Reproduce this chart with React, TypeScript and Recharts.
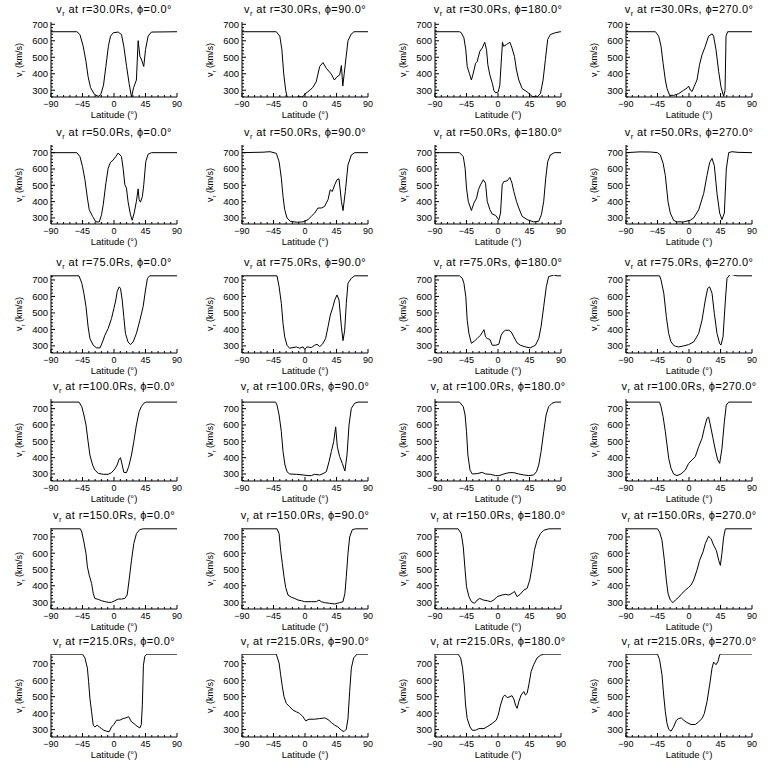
import React from 'react';
import { LineChart, Line, XAxis, YAxis } from 'recharts';

type Pt = [number, number];

// panel labels
const radii = [30, 50, 75, 100, 150, 215];
const phis = [0, 90, 180, 270];

// axis ticks
const latMajor = [-90, -45, 0, 45, 90];
const latTicks = [-90, -81, -72, -63, -54, -45, -36, -27, -18, -9, 0, 9, 18, 27, 36, 45, 54, 63, 72, 81, 90];
const vMajor = [300, 400, 500, 600, 700];
const vTicks = [260, 280, 300, 320, 340, 360, 380, 400, 420, 440, 460, 480, 500, 520, 540, 560, 580, 600, 620, 640, 660, 680, 700, 720, 740, 760];

// y range per radius row
const rowDomains: [number, number][] = [
  [259, 714],
  [263, 747],
  [257, 730],
  [257, 759],
  [257, 755],
  [255, 759],
];

// [latitude, v_r]
const r30p0: Pt[] = [[-90,655],[-53,655],[-48.7,638],[-44,567],[-40,474],[-37,382],[-33.5,316],[-28,275],[-22.5,263],[-19,273],[-15,331],[-11.6,444],[-8,567],[-5,628],[-1,649],[6,653],[10.7,638],[14,567],[18,444],[21.6,341],[25,259],[28,316],[32,362],[34.5,601],[37,505],[39,490],[42.5,444],[45,546],[48.7,628],[53.5,653],[90,655]];
const r30p90: Pt[] = [[-90,655],[-41,655],[-36,628],[-33,546],[-30.5,403],[-27.6,300],[-25.5,258],[-20,254],[-12,256],[-8,262],[-5,259],[-2,266],[0,278],[4,290],[11,316],[16,351],[21,444],[25.7,468],[30.5,433],[37.6,398],[42,362],[45.7,382],[49.5,392],[52,450],[54,326],[56,400],[61.4,600],[66,640],[70,655],[90,655]];
const r30p180: Pt[] = [[-90,655],[-55,655],[-52.5,649],[-48.7,618],[-46,546],[-44,444],[-41,403],[-38,362],[-36,392],[-32,464],[-29.7,474],[-26,536],[-22.5,556],[-19,591],[-16.4,546],[-14.5,454],[-11.6,392],[-8,341],[-6,300],[-3.5,284],[0.3,290],[2.6,331],[4.5,464],[6.4,591],[8,567],[12,577],[17,591],[20,556],[23.5,505],[26.4,423],[29.7,362],[34.5,310],[41.6,290],[48.7,263],[55.8,259],[60.6,279],[64.4,362],[67.7,485],[71,608],[74.8,638],[82,649],[89,655],[90,655]];
const r30p270: Pt[] = [[-90,655],[-48,655],[-43.3,628],[-40,567],[-37,464],[-33.8,362],[-31.4,310],[-27.6,269],[-22,269],[-14.8,279],[-7.6,300],[-2,316],[-0.5,325],[2,300],[4.3,292],[7.6,325],[11.4,362],[15,454],[18.6,515],[23.3,567],[28,628],[33,642],[35.2,628],[38.6,546],[42.4,413],[45.7,321],[49.5,263],[51.5,300],[52.9,628],[55.2,655],[90,655]];

const r50p0: Pt[] = [[-90,700],[-53,700],[-48.7,676],[-45,615],[-41.5,534],[-38,422],[-35.4,351],[-30.6,310],[-26,276],[-21,276],[-17.8,320],[-15.4,381],[-11.6,513],[-8.3,605],[-5,641],[-1.2,655],[2.6,676],[6,698],[10.7,676],[13,605],[15.5,503],[17.8,483],[20,402],[23.5,320],[26,286],[28.8,330],[32,402],[34.5,478],[35.9,412],[37.8,397],[40.6,432],[42.5,503],[45.4,645],[48.7,690],[53.5,700],[90,700]];
const r50p90: Pt[] = [[-90,700],[-60,703],[-50,706],[-41,696],[-37,645],[-33.8,544],[-31.4,432],[-29,351],[-25.7,300],[-21,280],[-12.4,274],[-2.9,276],[4.3,290],[9,310],[13.8,330],[18.6,361],[23.3,361],[28,371],[32.9,412],[36,473],[39,462],[42.4,503],[45.7,534],[48.6,540],[52,402],[54.3,345],[57.6,462],[61.4,625],[66.2,686],[71,700],[90,700]];
const r50p180: Pt[] = [[-90,700],[-55,700],[-49.6,676],[-47,605],[-45,483],[-42.5,402],[-38,346],[-34.4,391],[-30.6,422],[-28,473],[-25,503],[-21,534],[-17.8,513],[-15.4,402],[-11.6,351],[-8.3,324],[-3.5,316],[1.2,288],[3.6,330],[6,503],[8.3,523],[13,527],[17,548],[20,513],[22.6,462],[26.4,402],[29.7,361],[34.5,310],[41.6,290],[51,276],[58.2,280],[62,320],[65.3,402],[68.2,544],[71,645],[74.8,686],[80.5,700],[90,700]];
const r50p270: Pt[] = [[-90,700],[-70,705],[-55,704],[-45,700],[-41,686],[-37,635],[-33.8,560],[-30,400],[-26.7,330],[-21.9,285],[-17.1,276],[-7.6,276],[1.9,286],[6.7,300],[13.8,350],[21,450],[25.7,560],[29.5,640],[32.9,665],[36.2,620],[40,450],[43.8,330],[47.1,290],[50.5,330],[53.3,600],[56.7,700],[61.4,706],[70,702],[90,700]];

const r75p0: Pt[] = [[-90,725],[-50,725],[-46,680],[-43,619],[-40,538],[-37,416],[-34.4,345],[-29.7,304],[-25,288],[-20,288],[-16.4,324],[-13,365],[-8.3,406],[-3.5,467],[-0.2,527],[2.6,578],[4.5,629],[7.4,658],[9.3,649],[11.7,578],[14,477],[16.4,375],[20,324],[23.5,308],[27.3,324],[32,375],[37,456],[41.6,538],[45,639],[47.8,710],[51,725],[90,725]];
const r75p90: Pt[] = [[-90,725],[-40,725],[-37,659],[-33.8,558],[-31.4,436],[-29,355],[-25.7,304],[-22,286],[-17.1,290],[-12.4,294],[-7.6,286],[-2.9,294],[-0.5,280],[2.9,294],[9,290],[13.8,304],[17.1,310],[21,296],[24.8,310],[29.5,345],[32.9,416],[36.2,487],[40,538],[42.4,578],[45.7,609],[48.6,578],[52,416],[54.3,332],[56.7,395],[59,558],[61.4,680],[66.2,710],[71,725],[90,725]];
const r75p180: Pt[] = [[-90,725],[-55,725],[-51,710],[-48.7,680],[-46,598],[-44,456],[-41.5,375],[-38,316],[-33.5,330],[-29.7,345],[-25,365],[-20,398],[-17.8,355],[-15.4,345],[-11.6,339],[-8.3,304],[-3.5,304],[1.2,310],[4.5,365],[7.4,385],[10.7,395],[15.5,395],[18.8,385],[22.6,355],[27.3,318],[32,304],[39,294],[46,288],[53.5,304],[58.2,345],[61.5,416],[65.3,538],[69,659],[72.3,720],[79.6,730],[84.3,725],[90,725]];
const r75p270: Pt[] = [[-90,725],[-42,725],[-40,700],[-36,619],[-32.4,477],[-29,375],[-25.7,324],[-21,300],[-14.8,294],[-7.6,300],[-0.5,308],[6.7,324],[13.8,375],[18.6,456],[23.3,578],[26.7,649],[29.5,658],[32.9,619],[36.2,497],[40,375],[43.8,314],[45.7,305],[48.6,355],[52,578],[54.3,710],[59,734],[63.8,730],[68.6,725],[90,725]];

const r100p0: Pt[] = [[-90,740],[-50,740],[-46,712],[-43,661],[-40,600],[-37,498],[-34.4,416],[-30.6,355],[-27.3,324],[-22.5,304],[-15.4,298],[-8.3,298],[-3.5,308],[1.2,331],[4.5,355],[7.4,392],[9.3,400],[11.7,355],[14,310],[17.8,308],[21,345],[25,416],[28.3,498],[32,600],[35.9,682],[39,712],[42.5,733],[46,740],[90,740]];
const r100p90: Pt[] = [[-90,740],[-42,740],[-40,722],[-37,661],[-33.8,559],[-31.4,437],[-28.6,355],[-25.7,314],[-22,300],[-12.4,298],[-2.9,294],[4.3,290],[9,290],[13.8,298],[21,294],[25.7,302],[30.5,314],[34.3,375],[37.6,437],[41,498],[43.8,588],[46.2,467],[49.5,406],[53.3,365],[57,318],[60,416],[62.9,600],[66.2,702],[71,733],[75.7,740],[90,740]];
const r100p180: Pt[] = [[-90,740],[-55,740],[-49.6,712],[-47,661],[-45,559],[-43,416],[-40,324],[-36.8,300],[-29.7,302],[-22.5,310],[-17.8,300],[-10.7,298],[-3.5,290],[1.2,290],[8.3,300],[15.5,308],[22.6,308],[29.7,300],[36.8,294],[44,290],[51,294],[55,314],[58.2,355],[61.5,437],[65.3,559],[68.7,661],[72.3,712],[77.2,733],[82,740],[90,740]];
const r100p270: Pt[] = [[-90,740],[-42,740],[-40,712],[-37,651],[-33.8,559],[-31.4,478],[-29,396],[-25.7,335],[-22,300],[-17.1,290],[-11.4,300],[-5.2,324],[-0.5,365],[4.3,386],[9,406],[13.8,467],[18.6,518],[21.9,580],[25.7,641],[28,648],[30.5,600],[34.3,518],[37.6,447],[41,386],[43.8,365],[47.1,457],[50.5,620],[53.3,722],[56.7,740],[90,740]];

const r150p0: Pt[] = [[-90,750],[-48,750],[-46,730],[-43,669],[-40,598],[-38,516],[-35.4,465],[-32,414],[-29.7,353],[-27.3,322],[-22.5,316],[-17.8,308],[-13,302],[-8.3,298],[-3.5,298],[1.2,308],[6,318],[10.7,318],[15.5,322],[18.8,343],[21.6,435],[25,557],[28.3,659],[32,720],[36.8,745],[41.6,750],[90,750]];
const r150p90: Pt[] = [[-90,750],[-40,750],[-37,720],[-34.8,618],[-32.4,537],[-30,455],[-27.6,390],[-24.3,343],[-19.5,329],[-14.8,322],[-10,312],[-5.2,308],[-0.5,302],[9,302],[16.2,302],[20,312],[23.3,302],[28,296],[35.2,292],[42.4,288],[49.5,296],[54.3,302],[57,353],[59,455],[61.4,598],[63.8,700],[67.6,745],[72.4,750],[90,750]];
const r150p180: Pt[] = [[-90,750],[-57,750],[-52.5,720],[-49.6,639],[-47,496],[-45,394],[-41.5,333],[-38,302],[-33.5,292],[-29.7,312],[-26,322],[-21,312],[-15.4,308],[-10.7,302],[-6,312],[-1.2,333],[6,343],[10.7,347],[15.5,343],[20,353],[23.5,365],[27.3,333],[32,349],[36.8,373],[41.6,384],[45.4,435],[48.7,516],[52,618],[55.8,680],[60.6,720],[65.3,741],[72.5,750],[90,750]];
const r150p270: Pt[] = [[-90,750],[-45,750],[-42,730],[-38.6,680],[-35.2,557],[-32.4,435],[-30,353],[-26.7,312],[-22.9,296],[-19.5,312],[-14.8,329],[-10,353],[-5.2,373],[-0.5,390],[2.9,404],[6.7,435],[11.4,496],[15.2,557],[20,608],[23.3,659],[28,704],[31.4,690],[35.2,649],[39,618],[42.4,557],[44.8,525],[47,598],[49.5,700],[52,750],[90,750]];

const r215p0: Pt[] = [[-90,758],[-45,758],[-41.5,735],[-38,673],[-36.3,592],[-34.4,490],[-32,408],[-29.7,327],[-27.3,316],[-24,327],[-21,316],[-17.8,306],[-14.5,296],[-10.7,290],[-6.9,287],[-3.5,316],[-0.2,331],[3.6,357],[8.3,357],[13,367],[16,370],[21,378],[25,347],[29,335],[33,320],[37,310],[39,330],[40.5,450],[42,690],[44,745],[47,758],[90,758]];
const r215p90: Pt[] = [[-90,758],[-41,758],[-37,704],[-34.8,633],[-32.4,561],[-30,500],[-26.7,459],[-22,439],[-17.1,418],[-12.4,408],[-7.6,398],[-2.9,378],[1,353],[5.7,363],[13.8,363],[21,367],[28,371],[32.9,361],[37.6,343],[42.4,327],[47,316],[52,296],[55.7,288],[59,302],[61.4,367],[63.8,531],[66.2,673],[69.5,735],[74.3,758],[90,758]];
const r215p180: Pt[] = [[-90,758],[-57,758],[-53.4,735],[-50.6,673],[-48.2,571],[-46.3,449],[-44,367],[-40,316],[-36.8,296],[-32,296],[-27.3,306],[-20,306],[-14.5,320],[-8.3,337],[-2.6,357],[0.3,388],[3.6,449],[7.4,500],[9.8,510],[13,494],[17,500],[20,506],[22.6,486],[25,449],[27.3,429],[29.7,469],[33,510],[36.8,531],[39.2,510],[41.6,520],[44,571],[47.3,653],[51,694],[55.8,735],[60.6,751],[65.3,758],[90,758]];
const r215p270: Pt[] = [[-90,758],[-45,758],[-42,724],[-38.6,633],[-36.2,510],[-33.8,408],[-31.4,337],[-29,302],[-25.7,290],[-22,316],[-18,357],[-14.8,367],[-11,371],[-7.6,357],[-2.9,343],[2.9,331],[9,331],[13.8,347],[18.6,367],[21.9,398],[25.7,469],[29.5,571],[32.9,673],[35.2,710],[38.6,694],[41.4,714],[43.8,755],[45.7,759],[90,759]];

const profiles: Pt[][][] = [
  [r30p0, r30p90, r30p180, r30p270],
  [r50p0, r50p90, r50p180, r50p270],
  [r75p0, r75p90, r75p180, r75p270],
  [r100p0, r100p90, r100p180, r100p270],
  [r150p0, r150p90, r150p180, r150p270],
  [r215p0, r215p90, r215p180, r215p270],
];

// layout (pixels)
const colLeft = [51, 242, 435, 626];
const rowTop = [22, 145, 275, 399, 528, 654];
const rowBottom = [97, 224, 353, 481, 609, 737];
const PLOT_W = 126;
const AXIS_W = 51;
const MARGIN_TOP = 20;
const MARGIN_RIGHT = 15;
const AXIS_H = 31;

const FONT = '"Liberation Sans", Arial, sans-serif';
const INK = '#000';

const fmtLat = (v: number) => (v < 0 ? '\u2212' + Math.abs(v) : String(v));

const BottomTick = (props: any) => {
  const { x, y, payload } = props;
  const major = latMajor.includes(payload.value);
  return (
    <g>
      <line x1={x} x2={x} y1={y} y2={y - (major ? 4 : 2)} stroke={INK} />
      {major && (
        <text x={x} y={y + 10} textAnchor="middle" fontSize={9} fontFamily={FONT} fill={INK}>
          {fmtLat(payload.value)}
        </text>
      )}
    </g>
  );
};

const TopTick = (props: any) => {
  const { x, y, payload } = props;
  const major = latMajor.includes(payload.value);
  return <line x1={x} x2={x} y1={y} y2={y + (major ? 4 : 2)} stroke={INK} />;
};

const LeftTick = (props: any) => {
  const { x, y, payload } = props;
  const major = vMajor.includes(payload.value);
  return (
    <g>
      <line x1={x} x2={x + (major ? 4 : 2)} y1={y} y2={y} stroke={INK} />
      {major && (
        <text x={x - 3} y={y + 3.5} textAnchor="end" fontSize={9.5} fontFamily={FONT} fill={INK}>
          {payload.value}
        </text>
      )}
    </g>
  );
};

const RightTick = (props: any) => {
  const { x, y, payload } = props;
  const major = vMajor.includes(payload.value);
  return <line x1={x} x2={x - (major ? 4 : 2)} y1={y} y2={y} stroke={INK} />;
};

interface PanelProps {
  pts: Pt[];
  domain: [number, number];
  r: number;
  phi: number;
  plotLeft: number;
  plotTop: number;
  plotBottom: number;
}

const Panel = ({ pts, domain, r, phi, plotLeft, plotTop, plotBottom }: PanelProps) => {
  const data = pts.map(([lat, v]) => ({ lat, v }));
  const plotH = plotBottom - plotTop;
  const ticks = vTicks.filter(t => t >= domain[0] && t <= domain[1]);
  const left = plotLeft - AXIS_W;
  const top = plotTop - MARGIN_TOP;
  return (
    <div style={{ position: 'absolute', left, top, width: AXIS_W + PLOT_W + MARGIN_RIGHT, height: MARGIN_TOP + plotH + AXIS_H }}>
      <div
        style={{
          position: 'absolute',
          left: AXIS_W - 20,
          width: PLOT_W + 40,
          top: 1,
          textAlign: 'center',
          fontFamily: FONT,
          fontSize: 11,
          letterSpacing: 0.4,
          lineHeight: '12px',
          whiteSpace: 'nowrap',
        }}
      >
        v<sub style={{ fontSize: 7.5 }}>r</sub> at r={r.toFixed(1)}Rs, {'\u03d5'}={phi.toFixed(1)}{'\u00b0'}
      </div>
      <div
        style={{
          position: 'absolute',
          left: 21,
          top: MARGIN_TOP + plotH / 2,
          transform: 'translate(-50%, -50%) rotate(-90deg)',
          fontFamily: FONT,
          fontSize: 9,
          whiteSpace: 'nowrap',
          lineHeight: '10px',
        }}
      >
        v<sub style={{ fontSize: 6 }}>r</sub> (km/s)
      </div>
      <div
        style={{
          position: 'absolute',
          left: AXIS_W,
          width: PLOT_W,
          top: MARGIN_TOP + plotH + 13,
          textAlign: 'center',
          fontFamily: FONT,
          fontSize: 9.5,
          lineHeight: '10px',
        }}
      >
        Latitude ({'\u00b0'})
      </div>
      <LineChart
        width={AXIS_W + PLOT_W + MARGIN_RIGHT}
        height={MARGIN_TOP + plotH + AXIS_H}
        data={data}
        margin={{ top: MARGIN_TOP, right: MARGIN_RIGHT, bottom: 0, left: 0 }}
      >
        <XAxis
          dataKey="lat"
          type="number"
          domain={[-90, 90]}
          ticks={latTicks}
          interval={0}
          height={AXIS_H}
          tickSize={0}
          tickMargin={0}
          tickLine={false}
          tick={BottomTick}
          axisLine={{ stroke: INK }}
        />
        <XAxis
          xAxisId="top"
          orientation="top"
          dataKey="lat"
          type="number"
          domain={[-90, 90]}
          ticks={latTicks}
          interval={0}
          height={0}
          tickSize={0}
          tickMargin={0}
          tickLine={false}
          tick={TopTick}
          axisLine={{ stroke: INK }}
        />
        <YAxis
          type="number"
          domain={domain}
          allowDataOverflow
          ticks={ticks}
          interval={0}
          width={AXIS_W}
          tickSize={0}
          tickMargin={0}
          tickLine={false}
          tick={LeftTick}
          axisLine={{ stroke: INK }}
        />
        <YAxis
          yAxisId="right"
          orientation="right"
          type="number"
          domain={domain}
          allowDataOverflow
          ticks={ticks}
          interval={0}
          width={0}
          tickSize={0}
          tickMargin={0}
          tickLine={false}
          tick={RightTick}
          axisLine={{ stroke: INK }}
        />
        <Line
          dataKey="v"
          type="linear"
          stroke={INK}
          strokeWidth={1}
          dot={false}
          isAnimationActive={false}
        />
      </LineChart>
    </div>
  );
};

export default function App() {
  return (
    <div style={{ position: 'absolute', left: 0, top: 0, width: 768, height: 768, background: '#fff', overflow: 'hidden' }}>
      {profiles.map((row, i) =>
        row.map((pts, j) => (
          <Panel
            key={`${i}-${j}`}
            pts={pts}
            domain={rowDomains[i]}
            r={radii[i]}
            phi={phis[j]}
            plotLeft={colLeft[j]}
            plotTop={rowTop[i]}
            plotBottom={rowBottom[i]}
          />
        ))
      )}
    </div>
  );
}
